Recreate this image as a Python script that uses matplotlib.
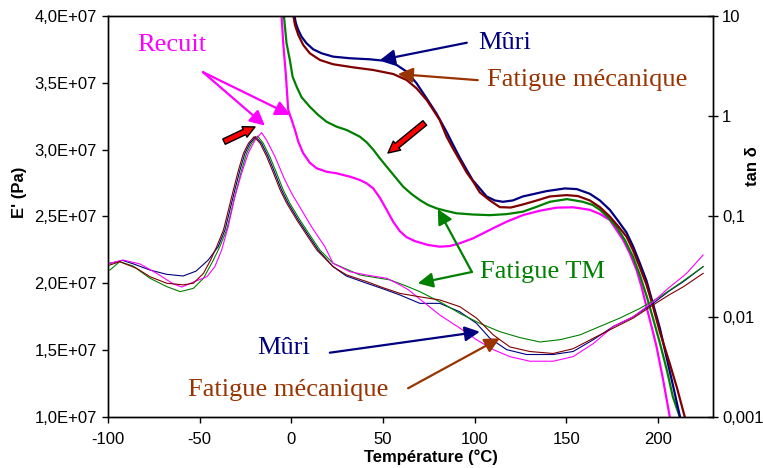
import matplotlib
matplotlib.use("Agg")
import matplotlib.pyplot as plt

plt.rcParams['font.family'] = ['Liberation Sans', 'DejaVu Sans']

# ---- E' (Pa), left axis: temperature (°C) and modulus ----
t_e_muri = [1.0, 2.5, 3.8, 5.6, 8.3, 11.9, 16.5, 22.8, 31.9, 42.9, 50.1, 57.4, 62.9, 68.3, 73.8,
            79.2, 82.0, 84.6, 88.1, 91.9, 95.6, 99.0, 102.8, 106.5, 111.0, 115.4, 120.8, 126.3, 132.8,
            139.2, 144.3, 149.2, 155.7, 162.8, 168.3, 173.7, 178.1, 182.8, 186.3, 190.1, 193.7,
            197.2, 201.0, 204.6, 208.1, 212.0, 214.1]
e_muri = [4.05e7, 3.945e7, 3.895e7, 3.845e7, 3.796e7, 3.751e7, 3.721e7, 3.696e7, 3.684e7, 3.676e7,
          3.666e7, 3.634e7, 3.584e7, 3.497e7, 3.384e7, 3.27e7, 3.20e7, 3.135e7, 3.04e7, 2.94e7, 2.85e7,
          2.77e7, 2.71e7, 2.65e7, 2.62e7, 2.61e7, 2.62e7, 2.65e7, 2.67e7, 2.69e7, 2.70e7, 2.71e7,
          2.705e7, 2.67e7, 2.62e7, 2.55e7, 2.47e7, 2.38e7, 2.28e7, 2.15e7, 2.02e7, 1.85e7, 1.665e7,
          1.45e7, 1.24e7, 1.0e7, 0.85e7]

t_e_meca = [0.5, 2.0, 3.8, 6.5, 10.1, 15.6, 22.8, 33.7, 44.7, 55.6, 62.9, 68.3, 73.8, 77.4, 81.0,
            84.6, 88.1, 91.9, 95.6, 99.0, 102.8, 108.3, 113.7, 119.7, 126.3, 133.9, 141.0, 150.1,
            156.3, 162.8, 168.3, 173.7, 178.1, 182.8, 186.3, 190.1, 193.7, 197.2, 201.0, 206.4, 210.3,
            214.6, 216.2]
e_meca = [4.05e7, 3.933e7, 3.858e7, 3.783e7, 3.721e7, 3.671e7, 3.639e7, 3.616e7, 3.596e7, 3.566e7,
          3.521e7, 3.459e7, 3.372e7, 3.297e7, 3.22e7, 3.10e7, 3.01e7, 2.92e7, 2.83e7, 2.765e7, 2.68e7,
          2.62e7, 2.57e7, 2.567e7, 2.59e7, 2.62e7, 2.65e7, 2.66e7, 2.653e7, 2.62e7, 2.57e7, 2.50e7,
          2.43e7, 2.35e7, 2.25e7, 2.12e7, 1.99e7, 1.83e7, 1.636e7, 1.40e7, 1.22e7, 1.0e7, 0.85e7]

t_e_tm = [-4.6, -4.0, -2.6, -0.8, 0.7, 2.9, 5.6, 10.1, 14.7, 19.2, 24.7, 30.2, 37.4, 41.1, 44.7,
          48.3, 52.0, 56.5, 61.0, 65.6, 70.1, 74.6, 79.2, 84.7, 90.1, 99.0, 108.3, 117.6, 126.3,
          133.9, 141.0, 150.3, 159.0, 164.4, 168.3, 172.6, 177.5, 181.9, 186.3, 190.1, 193.9, 197.2,
          201.0, 204.8, 208.1, 211.9, 214.1]
e_tm = [4.05e7, 3.995e7, 3.796e7, 3.671e7, 3.546e7, 3.471e7, 3.392e7, 3.321e7, 3.259e7, 3.209e7,
        3.172e7, 3.147e7, 3.097e7, 3.055e7, 3.000e7, 2.935e7, 2.873e7, 2.798e7, 2.723e7, 2.668e7,
        2.623e7, 2.586e7, 2.561e7, 2.541e7, 2.524e7, 2.515e7, 2.51e7, 2.518e7, 2.536e7, 2.573e7,
        2.61e7, 2.63e7, 2.61e7, 2.586e7, 2.55e7, 2.496e7, 2.42e7, 2.324e7, 2.20e7, 2.062e7, 1.90e7,
        1.741e7, 1.554e7, 1.352e7, 1.15e7, 1.0e7, 0.85e7]

t_e_recuit = [-5.8, -5.3, -4.4, -2.9, -1.7, 0.2, 2.0, 3.8, 6.5, 10.1, 13.8, 19.2, 24.7, 32.0, 37.4,
              41.1, 44.7, 48.3, 52.0, 55.6, 59.2, 62.9, 67.4, 74.5, 81.0, 86.5, 91.9, 99.2, 108.3,
              117.4, 126.5, 135.5, 144.6, 153.7, 162.8, 168.3, 173.7, 181.0, 184.6, 188.3, 191.0,
              193.7, 196.5, 199.2, 202.8, 206.4, 208.5]
e_recuit = [4.05e7, 3.995e7, 3.796e7, 3.546e7, 3.297e7, 3.222e7, 3.147e7, 3.060e7, 2.973e7, 2.902e7,
            2.861e7, 2.835e7, 2.823e7, 2.798e7, 2.773e7, 2.748e7, 2.71e7, 2.64e7, 2.55e7, 2.46e7,
            2.39e7, 2.345e7, 2.316e7, 2.287e7, 2.274e7, 2.279e7, 2.30e7, 2.337e7, 2.40e7, 2.461e7,
            2.511e7, 2.543e7, 2.566e7, 2.569e7, 2.55e7, 2.519e7, 2.474e7, 2.324e7, 2.225e7, 2.10e7,
            1.975e7, 1.825e7, 1.676e7, 1.526e7, 1.277e7, 1.002e7, 0.85e7]

# ---- tan delta, right axis (log) ----
t_d_muri = [-99, -92, -86, -77, -68, -59, -52, -45.3, -39.9, -36.2, -33.5, -30.8, -28.0, -25.3, -22.6,
            -19.5, -16.2, -12.6, -8.9, -5.3, -1.7, 3.8, 9.2, 14.7, 22.8, 30, 41.1, 50, 59.2, 70.1, 81.0,
            91.9, 101.0, 108.3, 117.4, 128.3, 142.8, 153.7, 164.7, 175.6, 186.5, 197.3, 206, 214, 224.6]
d_muri = [0.0341, 0.0365, 0.0336, 0.0292, 0.0265, 0.0255, 0.0285, 0.0368, 0.050, 0.0733, 0.116, 0.184,
          0.291, 0.427, 0.537, 0.625, 0.537, 0.395, 0.270, 0.184, 0.1355, 0.0923, 0.0654, 0.0463,
          0.0316, 0.0255, 0.0216, 0.0190, 0.0165, 0.0136, 0.0136, 0.0112, 0.0086, 0.0061, 0.0047,
          0.0042, 0.0042, 0.0045, 0.0059, 0.0080, 0.0100, 0.0136, 0.0180, 0.0225, 0.0316]

t_d_meca = [-99, -93.6, -84.4, -77.1, -68, -58.9, -53.4, -47.9, -44.0, -40.7, -37.0, -34.3, -31.6,
            -28.8, -26.1, -23.4, -20.3, -17.0, -13.4, -9.7, -6.1, -2.5, 3.0, 8.4, 13.9, 22.8, 30,
            41.1, 50, 59.2, 70.1, 81.0, 91.9, 101.0, 110.1, 119.2, 130.1, 142.8, 153.7, 164.7, 175.6,
            186.5, 197.3, 206, 214, 224.6]
d_meca = [0.0328, 0.0354, 0.0304, 0.0251, 0.0216, 0.0208, 0.0216, 0.0271, 0.0368, 0.050, 0.0733,
          0.116, 0.184, 0.291, 0.427, 0.537, 0.625, 0.537, 0.395, 0.270, 0.184, 0.1355, 0.0923, 0.0654,
          0.0463, 0.0316, 0.0262, 0.0224, 0.0195, 0.0171, 0.0158, 0.0147, 0.0126, 0.0097, 0.0066,
          0.0050, 0.0045, 0.0043, 0.0048, 0.0061, 0.0077, 0.0097, 0.0131, 0.0165, 0.0200, 0.0271]

t_d_tm = [-99, -93.6, -86.4, -77.1, -68, -60.6, -53.4, -47.9, -42.5, -39.0, -35.3, -32.6, -29.9, -27.1,
          -24.4, -21.7, -18.4, -15.3, -11.7, -8.0, -4.4, -0.8, 4.7, 10.1, 15.6, 22.8, 37.4, 53.8, 62,
          70.1, 81.0, 91.9, 102.8, 113.7, 124.6, 135.6, 146.5, 157.5, 168.3, 179.2, 190.1, 201.0, 212,
          224.6]
d_tm = [0.0292, 0.0354, 0.0321, 0.0242, 0.0200, 0.0178, 0.0192, 0.0242, 0.0368, 0.050, 0.0733, 0.116,
        0.184, 0.291, 0.427, 0.537, 0.635, 0.537, 0.395, 0.270, 0.184, 0.1355, 0.0923, 0.0654, 0.0463,
        0.0341, 0.0261, 0.0233, 0.0205, 0.0178, 0.0141, 0.0108, 0.0086, 0.0071, 0.0062, 0.0056,
        0.0059, 0.0066, 0.0080, 0.0097, 0.0121, 0.0158, 0.0216, 0.0316]

t_d_recuit = [-99, -91.8, -82.5, -73.4, -64.3, -59.7, -53.4, -46.0, -41.7, -38.0, -34.4, -30.8, -27.1,
              -23.5, -19.8, -16.2, -13.5, -8.9, -3.5, 0.2, 5.6, 11.0, 18.3, 22.8, 32.0, 41.1, 52.0,
              59.2, 64, 70.1, 81.0, 91.9, 101.0, 110.1, 119.2, 130.1, 142.8, 153.7, 164.7, 175.6,
              186.5, 197.3, 206, 215.6, 224.6]
d_recuit = [0.0341, 0.0368, 0.0336, 0.0271, 0.0212, 0.0198, 0.0222, 0.0251, 0.0316, 0.0463, 0.0791,
            0.158, 0.270, 0.427, 0.579, 0.686, 0.579, 0.395, 0.231, 0.170, 0.116, 0.0791, 0.050,
            0.0341, 0.0281, 0.0261, 0.0242, 0.0208, 0.0185, 0.0150, 0.0104, 0.0077, 0.0059, 0.0047,
            0.0040, 0.0036, 0.0036, 0.0040, 0.0054, 0.0080, 0.0100, 0.0141, 0.0195, 0.0271, 0.0413]

x_ticks = [-100, -50, 0, 50, 100, 150, 200]
e_ticks = [1.0e7, 1.5e7, 2.0e7, 2.5e7, 3.0e7, 3.5e7, 4.0e7]
e_tick_labels = ["1,0E+07", "1,5E+07", "2,0E+07", "2,5E+07", "3,0E+07", "3,5E+07", "4,0E+07"]
d_ticks = [0.001, 0.01, 0.1, 1, 10]
d_tick_labels = ["0,001", "0,01", "0,1", "1", "10"]

NAVY = "#000080"
BROWN_LINE = "#800000"
BROWN_TEXT = "#993300"
GREEN = "#008000"
PINK = "#FF00FF"

fig = plt.figure(figsize=(7.63, 4.68), dpi=100)
ax = fig.add_axes([0.1415, 0.109, 0.793, 0.8568])
ax2 = ax.twinx()

# E' curves (thick)
ax.plot(t_e_recuit, e_recuit, color=PINK, lw=1.6)
ax.plot(t_e_tm, e_tm, color=GREEN, lw=1.6)
ax.plot(t_e_muri, e_muri, color=NAVY, lw=1.6)
ax.plot(t_e_meca, e_meca, color=BROWN_LINE, lw=1.6)

# tan delta curves (thin)
ax2.plot(t_d_muri, d_muri, color=NAVY, lw=0.8)
ax2.plot(t_d_tm, d_tm, color=GREEN, lw=0.8)
ax2.plot(t_d_recuit, d_recuit, color=PINK, lw=0.8)
ax2.plot(t_d_meca, d_meca, color=BROWN_LINE, lw=0.8)

ax.set_xlim(-100, 230)
ax.set_ylim(1.0e7, 4.0e7)
ax.set_xticks(x_ticks)
ax.set_xticklabels([str(v) for v in x_ticks])
ax.set_yticks(e_ticks)
ax.set_yticklabels(e_tick_labels)

ax2.set_yscale("log")
ax2.set_ylim(0.001, 10)
ax2.set_yticks(d_ticks)
ax2.set_yticklabels(d_tick_labels)
ax2.minorticks_off()

ax.tick_params(axis="both", direction="out", length=4, width=1, labelsize=12, pad=4)
ax.tick_params(axis="x", pad=7)
ax2.tick_params(axis="y", direction="inout", length=7, width=1, labelsize=12, pad=3)

for a in (ax, ax2):
    for s in a.spines.values():
        s.set_linewidth(1)
        s.set_color("black")

ax.set_xlabel("Température (°C)", fontsize=12, fontweight="bold")
ax.xaxis.set_label_coords(0.534, -0.082)
ax.set_ylabel("E' (Pa)", fontsize=12, fontweight="bold")
ax.yaxis.set_label_coords(-0.134, 0.56)
ax2.set_ylabel("tan δ", fontsize=12, fontweight="bold")
ax2.yaxis.set_label_coords(1.053, 0.626)

# annotations (positions in E' / temperature coordinates)
serif = dict(family="Liberation Serif", fontsize=19)
dc = ax.transData


def arrow(tip, tail, color):
    ax2.annotate("", xy=tip, xytext=tail, xycoords=dc, textcoords=dc,
                 arrowprops=dict(arrowstyle="-|>,head_length=0.9,head_width=0.45",
                                 color=color, lw=1.6, shrinkA=0, shrinkB=0))


ax2.text(-65.1, 3.78e7, "Recuit", color=PINK, ha="center", va="center", transform=dc, **serif)
arrow((-14.4, 3.18e7), (-48.2, 3.58e7), PINK)
arrow((-0.5, 3.26e7), (-48.2, 3.58e7), PINK)

ax2.text(101.7, 3.80e7, "Mûri", color=NAVY, ha="left", va="center", transform=dc, **serif)
arrow((48.3, 3.67e7), (95.7, 3.80e7), NAVY)

ax2.text(106.7, 3.52e7, "Fatigue mécanique", color=BROWN_TEXT, ha="left", va="center",
         transform=dc, **serif)
arrow((58.1, 3.566e7), (101.7, 3.52e7), BROWN_TEXT)

ax2.text(102.8, 2.085e7, "Fatigue TM", color=GREEN, ha="left", va="center", transform=dc, **serif)
arrow((79.9, 2.556e7), (98.5, 2.085e7), GREEN)
arrow((69.0, 2.0e7), (98.5, 2.085e7), GREEN)

ax2.text(-18.8, 1.516e7, "Mûri", color=NAVY, ha="left", va="center", transform=dc, **serif)
arrow((102.8, 1.638e7), (21.0, 1.481e7), NAVY)

ax2.text(-56.4, 1.20e7, "Fatigue mécanique", color=BROWN_TEXT, ha="left", va="center",
         transform=dc, **serif)
arrow((113.7, 1.589e7), (63.7, 1.215e7), BROWN_TEXT)

# red direction arrows
red = dict(arrowstyle="simple,head_length=0.7,head_width=0.7,tail_width=0.35",
           fc="red", ec="black", lw=1.0, shrinkA=0, shrinkB=0, mutation_scale=12)
ax2.annotate("", xy=(-19.8, 3.17e7), xytext=(-36.7, 3.06e7), xycoords=dc, textcoords=dc,
             arrowprops=red)
ax2.annotate("", xy=(52.7, 2.975e7), xytext=(72.8, 3.20e7), xycoords=dc, textcoords=dc,
             arrowprops=red)

fig.savefig("out.png", dpi=100)
